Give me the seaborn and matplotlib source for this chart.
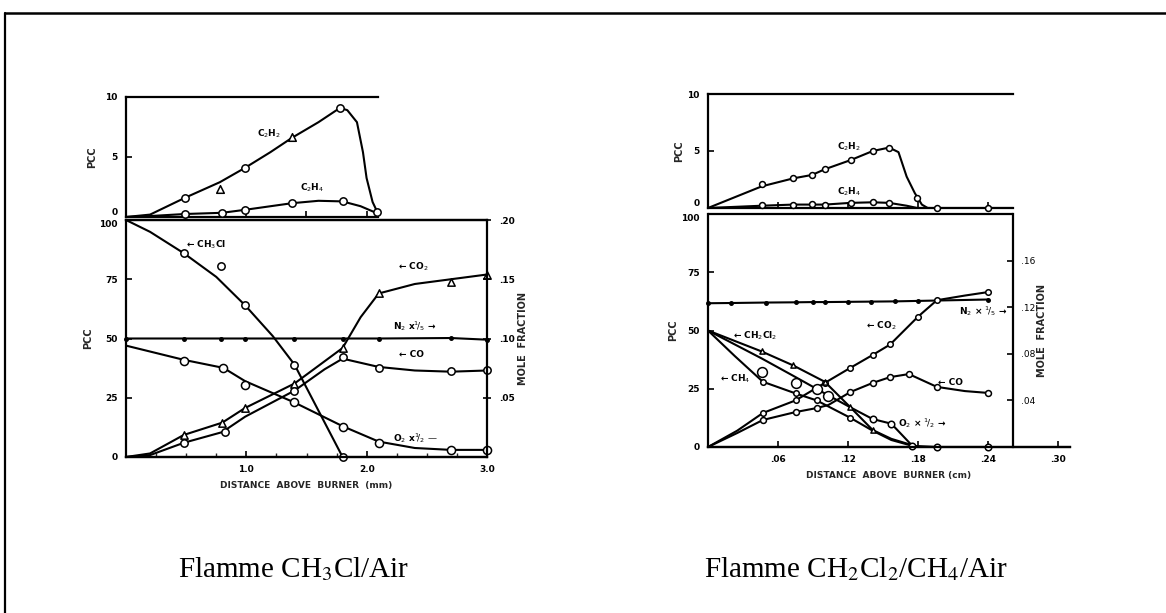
import numpy as np
import pandas as pd
import matplotlib
matplotlib.use("Agg")
import matplotlib.pyplot as plt
import seaborn as sns
from matplotlib.lines import Line2D

sns.set_style("ticks")
plt.rcParams["font.family"] = ["DejaVu Sans"]
plt.rcParams["mathtext.fontset"] = "dejavusans"

# ---------------- DATA: left panel (CH3Cl / Air), x in mm ----------------
# top: PCC
l_c2h2_x = [0, 0.2, 0.49, 0.78, 0.99, 1.2, 1.38, 1.6, 1.78, 1.84, 1.92, 1.97, 2.0, 2.05, 2.09]
l_c2h2_y = [0, 0.2, 1.6, 2.9, 4.1, 5.4, 6.6, 7.9, 9.1, 8.9, 7.9, 5.4, 3.25, 1.25, 0.4]
l_c2h2_ptx = [0.49, 0.99, 1.78, 2.09]
l_c2h2_pty = [1.6, 4.1, 9.1, 0.4]
l_c2h2_trx = [0.78, 1.38]
l_c2h2_try = [2.3, 6.7]
l_c2h4_x = [0, 0.15, 0.49, 0.8, 0.99, 1.38, 1.6, 1.8, 1.95, 2.09]
l_c2h4_y = [0, 0.05, 0.25, 0.35, 0.6, 1.15, 1.35, 1.3, 0.9, 0.3]
l_c2h4_ptx = [0.49, 0.8, 0.99, 1.38, 1.8]
l_c2h4_pty = [0.25, 0.35, 0.6, 1.2, 1.3]

# bottom: PCC (left) / mole fraction (right)
l_ch3cl_x = [0, 0.2, 0.48, 0.75, 0.99, 1.22, 1.4, 1.6, 1.8]
l_ch3cl_y = [100, 95, 86, 76, 64, 51, 39, 19.5, 0]
l_ch3cl_ptx = [0.48, 0.79, 0.99, 1.4, 1.8]
l_ch3cl_pty = [86, 80.6, 64, 39, 0]
l_n2_x = [0, 0.48, 0.79, 0.99, 1.4, 1.8, 2.1, 2.7, 3.0]
l_n2_y = [50, 50, 50, 50, 50, 50, 50, 50.2, 49.5]
l_co2_x = [0, 0.2, 0.48, 0.8, 0.99, 1.4, 1.8, 1.95, 2.1, 2.4, 2.7, 3.0]
l_co2_y = [0, 1.5, 9.3, 14.5, 20.7, 31, 46, 59, 69, 73, 75, 77]
l_co2_ptx = [0.48, 0.8, 0.99, 1.4, 1.8, 2.1, 2.7, 3.0]
l_co2_pty = [9.3, 14.3, 20.7, 31, 46, 69, 74, 77]
l_co_x = [0, 0.2, 0.48, 0.8, 0.99, 1.4, 1.65, 1.8, 2.1, 2.4, 2.7, 3.0]
l_co_y = [0, 0.8, 6, 10.5, 17, 28, 37, 41.5, 38, 36.5, 36, 36.5]
l_co_ptx = [0.48, 0.82, 1.4, 1.8, 2.1, 2.7, 3.0]
l_co_pty = [6, 10.5, 28, 42, 37.6, 36.3, 36.7]
l_o2_x = [0, 0.48, 0.81, 0.99, 1.4, 1.8, 2.1, 2.4, 2.7, 3.0]
l_o2_y = [47, 41, 37.6, 32, 23, 13, 6.5, 3.8, 3, 3]
l_o2_ptx = [0.48, 0.81, 0.99, 1.4, 1.8, 2.1, 2.7, 3.0]
l_o2_pty = [40.5, 37.6, 30.4, 23, 12.7, 6, 3, 3]

# ---------------- DATA: right panel (CH2Cl2 / CH4 / Air), x in cm ----------------
r_c2h2_x = [0, 0.046, 0.073, 0.089, 0.10, 0.122, 0.141, 0.155, 0.163, 0.17, 0.177, 0.183, 0.188, 0.262]
r_c2h2_y = [0, 1.9, 2.6, 2.9, 3.4, 4.2, 5.0, 5.3, 4.9, 2.75, 1.3, 0.3, 0, 0]
r_c2h2_ptx = [0.046, 0.073, 0.089, 0.10, 0.122, 0.141, 0.155, 0.179, 0.196, 0.24]
r_c2h2_pty = [2.1, 2.6, 2.9, 3.4, 4.2, 5.0, 5.3, 0.9, 0, 0]
r_c2h4_x = [0, 0.046, 0.073, 0.089, 0.10, 0.122, 0.141, 0.155, 0.17, 0.179, 0.19]
r_c2h4_y = [0, 0.2, 0.3, 0.3, 0.3, 0.45, 0.5, 0.45, 0.2, 0, 0]
r_c2h4_ptx = [0.046, 0.073, 0.089, 0.10, 0.122, 0.141, 0.155]
r_c2h4_pty = [0.25, 0.3, 0.35, 0.3, 0.45, 0.55, 0.45]

r_n2_x = [0, 0.02, 0.05, 0.075, 0.09, 0.10, 0.12, 0.14, 0.16, 0.18, 0.24]
r_n2_y = [61.7, 61.8, 62, 62.1, 62.2, 62.2, 62.3, 62.4, 62.5, 62.7, 63.3]
r_co2_x = [0, 0.025, 0.047, 0.075, 0.10, 0.122, 0.141, 0.156, 0.17, 0.18, 0.196, 0.22, 0.24]
r_co2_y = [0, 7, 14.6, 20, 27.5, 34, 39.5, 44, 51, 56, 63, 65, 66.5]
r_co2_ptx = [0.047, 0.075, 0.10, 0.122, 0.141, 0.156, 0.18, 0.196, 0.24]
r_co2_pty = [14.6, 20, 27.5, 34, 39.5, 44, 56, 63, 66.5]
r_co_x = [0, 0.025, 0.047, 0.075, 0.093, 0.103, 0.122, 0.141, 0.156, 0.172, 0.196, 0.22, 0.24]
r_co_y = [0, 6, 11.6, 15, 16.7, 18, 23.6, 27.5, 30, 31.3, 25.8, 24, 23.2]
r_co_ptx = [0.047, 0.075, 0.093, 0.122, 0.141, 0.156, 0.172, 0.196, 0.24]
r_co_pty = [11.6, 15, 16.7, 23.6, 27.5, 30, 31.3, 25.8, 23.2]
r_ch2cl2_x = [0, 0.046, 0.073, 0.10, 0.122, 0.141, 0.157, 0.18]
r_ch2cl2_y = [50, 41, 35, 28, 17, 7.3, 3.5, 0]
r_ch2cl2_ptx = [0.046, 0.073, 0.10, 0.122, 0.141]
r_ch2cl2_pty = [41, 35, 28, 17, 7.3]
r_o2_x = [0, 0.046, 0.075, 0.10, 0.122, 0.141, 0.157, 0.175, 0.196, 0.24]
r_o2_y = [50, 38, 30, 23, 17, 12, 10, 0.5, 0, 0]
r_o2_ptx = [0.141, 0.157, 0.175, 0.196, 0.24]
r_o2_pty = [12, 10, 0.5, 0, 0]
r_ch4_x = [0, 0.023, 0.047, 0.075, 0.093, 0.122, 0.141, 0.157, 0.175]
r_ch4_y = [50, 39, 28, 23, 20, 12.5, 7, 3, 0.5]
r_ch4_ptx = [0.047, 0.075, 0.093, 0.122]
r_ch4_pty = [28, 23, 20, 12.5]
r_ext_x = [0.046, 0.075, 0.093, 0.103]
r_ext_y = [32, 27.5, 25, 22]

# tick labels
l_top_yticks = [0, 5, 10]
l_bot_yticks = [0, 25, 50, 75, 100]
l_xticks = [1.0, 2.0, 3.0]
l_xticklabels = ["1.0", "2.0", "3.0"]
l_mf_ticks = [0.05, 0.10, 0.15, 0.20]
l_mf_labels = [".05", ".10", ".15", ".20"]
r_xticks = [0.06, 0.12, 0.18, 0.24, 0.30]
r_xticklabels = [".06", ".12", ".18", ".24", ".30"]
r_mf_ticks = [0.04, 0.08, 0.12, 0.16]
r_mf_labels = [".04", ".08", ".12", ".16"]

captions = [r"Flamme CH$_3$Cl/Air", r"Flamme CH$_2$Cl$_2$/CH$_4$/Air"]

# ---------------- FIGURE ----------------
W, H = 1166, 613
fig = plt.figure(figsize=(W / 100, H / 100), dpi=100)
fig.patch.set_facecolor("white")


def rect(x0, y0, x1, y1):
    return [x0 / W, 1 - y1 / H, (x1 - x0) / W, (y1 - y0) / H]


# page frame
fig.add_artist(Line2D([5 / W, 5 / W], [0, 1 - 13 / H], transform=fig.transFigure, color="black", lw=1.6))
fig.add_artist(Line2D([5 / W, 1], [1 - 13 / H, 1 - 13 / H], transform=fig.transFigure, color="black", lw=1.8))

TF = dict(fontsize=6.5, fontweight="bold", color="black")
LW = 1.5


def curve(ax, x, y):
    sns.lineplot(x=x, y=y, ax=ax, sort=False, estimator=None, color="black", lw=LW, zorder=2)


def pts(ax, x, y, marker="o", s=28, fill="white"):
    sns.scatterplot(x=x, y=y, ax=ax, marker=marker, s=s, facecolor=fill, edgecolor="black",
                    linewidth=1.1, zorder=3, clip_on=False)


def style(ax, right=False):
    for sp in ["top", "left", "bottom", "right"]:
        ax.spines[sp].set_linewidth(1.6)
        ax.spines[sp].set_color("black")
    ax.spines["right"].set_visible(right)
    ax.tick_params(direction="in", length=4, width=1.2, labelsize=6.5, pad=6, colors="black")
    for lab in ax.get_xticklabels() + ax.get_yticklabels():
        lab.set_fontweight("bold")
    ax.set_facecolor("none")


def nudge_edge_labels(ax_top, ax_bot):
    # keep the "0" of the upper plot and the "100" of the lower plot apart
    ax_top.get_yticklabels()[0].set_va("bottom")
    ax_bot.get_yticklabels()[-1].set_va("top")


# ===== LEFT TOP =====
axLT = fig.add_axes(rect(126, 97, 378, 217))
curve(axLT, l_c2h2_x, l_c2h2_y)
curve(axLT, l_c2h4_x, l_c2h4_y)
pts(axLT, l_c2h2_ptx, l_c2h2_pty)
pts(axLT, l_c2h2_trx, l_c2h2_try, marker="^", s=30)
pts(axLT, l_c2h4_ptx, l_c2h4_pty)
axLT.set_xlim(0, 2.095)
axLT.set_ylim(0, 10)
axLT.set_yticks(l_top_yticks)
axLT.set_yticklabels([str(v) for v in l_top_yticks])
axLT.set_xticks([0.5, 1.0, 1.5, 2.0])
axLT.set_xticklabels([])
axLT.set_ylabel("PCC", fontsize=7, fontweight="bold", labelpad=6)
style(axLT)
axLT.text(1.09, 6.7, r"C$_2$H$_2$", **TF)
axLT.text(1.45, 2.2, r"C$_2$H$_4$", **TF)

# ===== LEFT BOTTOM =====
axLB = fig.add_axes(rect(126, 220, 487, 457))
curve(axLB, l_ch3cl_x, l_ch3cl_y)
curve(axLB, l_n2_x, l_n2_y)
curve(axLB, l_co2_x, l_co2_y)
curve(axLB, l_co_x, l_co_y)
curve(axLB, l_o2_x, l_o2_y)
pts(axLB, l_ch3cl_ptx, l_ch3cl_pty)
pts(axLB, l_n2_x, l_n2_y, s=6, fill="black")
pts(axLB, l_co2_ptx, l_co2_pty, marker="^", s=28)
pts(axLB, l_co_ptx, l_co_pty)
pts(axLB, l_o2_ptx, l_o2_pty, s=34)
axLB.set_xlim(0, 3.0)
axLB.set_ylim(0, 100)
axLB.set_yticks(l_bot_yticks)
axLB.set_yticklabels([str(v) for v in l_bot_yticks])
axLB.set_xticks(l_xticks)
axLB.set_xticklabels(l_xticklabels)
axLB.set_xticks([0.25, 0.5, 0.75, 1.25, 1.5, 1.75, 2.25, 2.5, 2.75], minor=True)
axLB.tick_params(which="minor", direction="in", length=3, width=1)
axLB.set_xlabel("DISTANCE  ABOVE  BURNER  (mm)", fontsize=6.5, fontweight="bold", labelpad=5)
axLB.set_ylabel("PCC", fontsize=7, fontweight="bold", labelpad=4)
style(axLB)
nudge_edge_labels(axLT, axLB)
axLB2 = axLB.twinx()
axLB2.set_ylim(0, 0.2)
axLB2.set_yticks(l_mf_ticks)
axLB2.set_yticklabels(l_mf_labels)
axLB2.set_ylabel("MOLE  FRACTION", fontsize=7, fontweight="bold", labelpad=2)
style(axLB2, right=True)
axLB2.spines["left"].set_visible(False)
axLB2.tick_params(direction="inout", length=6)
axLB.text(0.5, 88.5, "\u2190 CH$_3$Cl", **TF)
axLB.text(2.26, 79, "\u2190 CO$_2$", **TF)
axLB.text(2.22, 54, "N$_2$ x$^1\\!/_5$ \u2192", **TF)
axLB.text(2.27, 42, "\u2190 CO", **TF)
axLB.text(2.22, 6.5, "O$_2$ x$^1\\!/_2$ \u2014", **TF)

# ===== RIGHT TOP =====
axRT = fig.add_axes(rect(708, 94, 1013, 208))
curve(axRT, r_c2h2_x, r_c2h2_y)
curve(axRT, r_c2h4_x, r_c2h4_y)
pts(axRT, r_c2h2_ptx, r_c2h2_pty, s=18)
pts(axRT, r_c2h4_ptx, r_c2h4_pty, s=18)
axRT.set_xlim(0, 0.261)
axRT.set_ylim(0, 10)
axRT.set_yticks(l_top_yticks)
axRT.set_yticklabels([str(v) for v in l_top_yticks])
axRT.set_xticks([0.06, 0.12, 0.18, 0.24])
axRT.set_xticklabels([])
axRT.set_ylabel("PCC", fontsize=7, fontweight="bold", labelpad=2)
style(axRT)
axRT.text(0.11, 5.1, r"C$_2$H$_2$", **TF)
axRT.text(0.11, 1.15, r"C$_2$H$_4$", **TF)

# ===== RIGHT BOTTOM =====
axRB = fig.add_axes(rect(708, 214, 1070, 447))
curve(axRB, r_n2_x, r_n2_y)
curve(axRB, r_co2_x, r_co2_y)
curve(axRB, r_co_x, r_co_y)
curve(axRB, r_ch2cl2_x, r_ch2cl2_y)
curve(axRB, r_o2_x, r_o2_y)
curve(axRB, r_ch4_x, r_ch4_y)
pts(axRB, r_n2_x, r_n2_y, s=6, fill="black")
pts(axRB, r_co2_ptx, r_co2_pty, s=16)
pts(axRB, r_co_ptx, r_co_pty, s=18)
pts(axRB, r_ch2cl2_ptx, r_ch2cl2_pty, marker="^", s=14)
pts(axRB, r_o2_ptx, r_o2_pty, s=22)
pts(axRB, r_ch4_ptx, r_ch4_pty, s=16)
pts(axRB, r_ext_x, r_ext_y, s=50)
axRB.set_xlim(0, 0.31)
axRB.set_ylim(0, 100)
axRB.set_yticks(l_bot_yticks)
axRB.set_yticklabels([str(v) for v in l_bot_yticks])
axRB.set_xticks(r_xticks)
axRB.set_xticklabels(r_xticklabels)
axRB.set_xlabel("DISTANCE  ABOVE  BURNER (cm)", fontsize=6.5, fontweight="bold", labelpad=5)
axRB.set_ylabel("PCC", fontsize=7, fontweight="bold", labelpad=2)
style(axRB)
nudge_edge_labels(axRT, axRB)
axRB.spines["top"].set_visible(False)
axRB.axhline(100, xmin=0, xmax=0.261 / 0.31, color="black", lw=1.6, clip_on=False)
axRB2 = axRB.twinx()
axRB2.set_ylim(0, 0.2)
axRB2.set_yticks(r_mf_ticks)
axRB2.set_yticklabels(r_mf_labels)
axRB2.set_ylabel("MOLE  FRACTION", fontsize=7, fontweight="bold", labelpad=1)
style(axRB2, right=True)
axRB2.spines["left"].set_visible(False)
axRB2.spines["top"].set_visible(False)
axRB2.spines["right"].set_position(("data", 0.261))
axRB.text(0.021, 46.5, "\u2190 CH$_2$Cl$_2$", **TF)
axRB.text(0.010, 28, "\u2190 CH$_4$", **TF)
axRB.text(0.135, 51, "\u2190 CO$_2$", **TF)
axRB.text(0.215, 57, "N$_2$ \u00d7 $^1\\!/_5$ \u2192", **TF)
axRB.text(0.197, 26.5, "\u2190 CO", **TF)
axRB.text(0.163, 9, "O$_2$ \u00d7 $^1\\!/_2$ \u2192", **TF)

# captions
cap_font = dict(fontsize=21, family=["Liberation Serif", "DejaVu Serif"], color="black")
fig.text(294 / W, 1 - 569 / H, captions[0], ha="center", va="center", math_fontfamily="stix", **cap_font)
fig.text(856 / W, 1 - 569 / H, captions[1], ha="center", va="center", math_fontfamily="stix", **cap_font)

fig.savefig("out.png", dpi=100, facecolor="white")
